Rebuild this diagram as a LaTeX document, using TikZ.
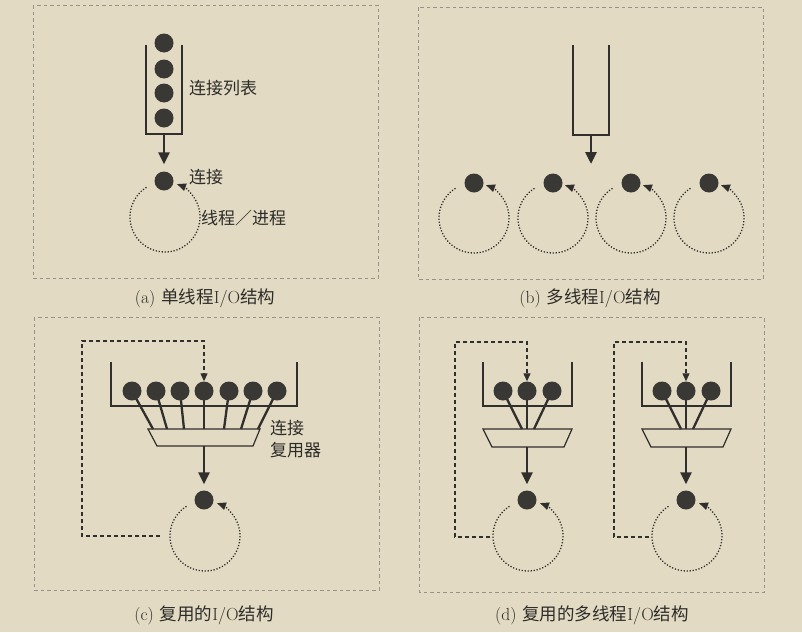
\documentclass[tikz,border=0pt]{standalone}
\usepackage{fontspec}
\newfontfamily\cjk{Noto Sans CJK SC}
\usetikzlibrary{arrows.meta,calc}
\definecolor{bgc}{RGB}{226,218,194}
\definecolor{ballc}{RGB}{58,56,53}
\definecolor{linec}{RGB}{48,47,45}
\definecolor{framec}{RGB}{150,146,136}
\definecolor{textc}{RGB}{45,44,42}
\newcommand\threadloop[1]{\draw[looppath] ($(#1)+(238:35)$) arc[start angle=238,end angle=-70,radius=35];}
\begin{document}
\begin{tikzpicture}[x=1pt,y=-1pt,
  frame/.style={draw=framec, line width=0.7pt, dash pattern=on 3.5pt off 3pt},
  ball/.style={circle, fill=ballc, minimum size=19pt, inner sep=0pt},
  tube/.style={draw=linec, line width=1.2pt},
  bigarrow/.style={draw=linec, line width=2.8pt, -{Triangle[length=12pt,width=11pt]}},
  looppath/.style={draw=linec, line width=1.3pt, dash pattern=on 1.2pt off 1.8pt, -{Triangle[length=9pt,width=7.5pt]}},
  feedback/.style={draw=linec, line width=1.2pt, dash pattern=on 4pt off 3pt, -{Triangle[length=8pt,width=7pt]}},
  spoke/.style={draw=linec, line width=2.3pt},
  lbl/.style={text=textc, font=\cjk\fontsize{17}{19}\selectfont, inner sep=0pt},
  captext/.style={text=textc, font=\fontsize{17.5}{19}\selectfont, inner sep=0pt}
]
\fill[bgc] (0,0) rectangle (802,632);
\useasboundingbox (0,0) rectangle (802,632);

% ---------- frames
\draw[frame] (33,5) rectangle (378,278);
\draw[frame] (418,7) rectangle (763,279);
\draw[frame] (34,317) rectangle (379,590);
\draw[frame] (419,317) rectangle (764,592);

% ---------- (a)
\draw[tube] (146,45) -- (146,134) -- (182,134) -- (182,45);
\node[ball] (a1) at (164,43) {};
\node[ball] (a2) at (164,69) {};
\node[ball] (a3) at (164,93) {};
\node[ball] (a4) at (164,118) {};
\coordinate (aB) at (164,134);
\node[ball] (a0) at (164,181) {};
\draw[bigarrow, shorten >=7pt] (aB) -- (a0.north);
\coordinate (aC) at (165,217);
\threadloop{aC}
\node[lbl, anchor=west] (aL1) at (189,88) {连接列表};
\node[lbl, anchor=west] (aL2) at (189,177) {连接};
\node[lbl, anchor=west] (aL3) at (201,218) {线程／进程};
\node[captext] (capa) at (205,298) {(a)\hspace{6pt}{\cjk 单线程}I/O{\cjk 结构}};

% ---------- (b)
\draw[tube] (573,45) -- (573,135) -- (609,135) -- (609,45);
\coordinate (bB) at (591,135);
\coordinate (bT) at (591,164);
\draw[bigarrow] (bB) -- (bT);
\foreach \x [count=\i] in {474,553,631,709}{
  \node[ball] (b\i) at (\x,183) {};
  \coordinate (bC\i) at (\x,218);
  \threadloop{bC\i}
}
\node[captext] (capb) at (590,298) {(b)\hspace{6pt}{\cjk 多线程}I/O{\cjk 结构}};

% ---------- (c)
\draw[tube] (111,362) -- (111,406) -- (297,406) -- (297,362);
\coordinate (cm1) at (148,429);
\coordinate (cm2) at (260,429);
\coordinate (cm3) at (253,446);
\coordinate (cm4) at (157,446);
\foreach \x/\e [count=\i] in {132/153,156/167,180/184,204/204,229/224,253/241,277/258}{
  \coordinate (ce\i) at (\e,429);
  \draw[spoke] (\x,391) -- (ce\i);
  \node[ball] (c\i) at (\x,391) {};
}
\draw[tube] (cm1) -- (cm2) -- (cm3) -- (cm4) -- cycle;
\coordinate (cB) at (204,446);
\node[ball] (c0) at (204,500) {};
\draw[bigarrow, shorten >=6pt] (cB) -- (c0.north);
\coordinate (cC) at (205,536);
\threadloop{cC}
\coordinate (cS) at (160,536);
\draw[feedback] (cS) -- (82,536) -- (82,341) -- (204,341) -- (c4.north);
\node[lbl, anchor=west] (cL1) at (270,428) {连接};
\node[lbl, anchor=west] (cL2) at (270,450) {复用器};
\node[captext] (capc) at (204,615) {(c)\hspace{6pt}{\cjk 复用的}I/O{\cjk 结构}};

% ---------- (d)
\foreach \dx/\p in {0/L,159/R}{
\begin{scope}[xshift=\dx pt, name prefix=\p-]
  \draw[tube] (483,362) -- (483,406) -- (572,406) -- (572,362);
  \coordinate (m1) at (483,429);
  \coordinate (m2) at (572,429);
  \coordinate (m3) at (564,447);
  \coordinate (m4) at (492,447);
  \foreach \x/\e [count=\i] in {503/522,527/527,552/534}{
    \coordinate (e\i) at (\e,429);
    \draw[spoke] (\x,391) -- (e\i);
    \node[ball] (d\i) at (\x,391) {};
  }
  \draw[tube] (m1) -- (m2) -- (m3) -- (m4) -- cycle;
  \coordinate (B) at (527,447);
  \node[ball] (d0) at (527,500) {};
  \draw[bigarrow, shorten >=6pt] (B) -- (d0.north);
  \coordinate (C) at (528,536);
  \threadloop{C}
  \coordinate (S) at (490,537);
  \draw[feedback] (S) -- (455,537) -- (455,342) -- (527,342) -- (d2.north);
\end{scope}
}
\node[captext] (capd) at (592,615) {(d)\hspace{6pt}{\cjk 复用的多线程}I/O{\cjk 结构}};
\end{tikzpicture}
\end{document}
